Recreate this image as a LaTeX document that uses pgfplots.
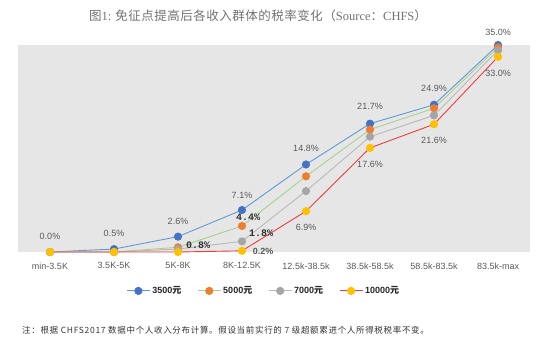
\documentclass[border=0pt]{standalone}
\usepackage{pgfplots}
\pgfplotsset{compat=1.18}
\usepackage{fontspec}
\setmainfont{Liberation Sans}
\newfontfamily\cjk{Noto Sans CJK SC}
\newfontfamily\serif{Liberation Serif}
\newfontfamily\mono{Liberation Mono}
\definecolor{bgc}{RGB}{231,230,230}
\definecolor{c1}{RGB}{68,114,196}
\definecolor{l1}{RGB}{91,155,213}
\definecolor{c2}{RGB}{237,125,49}
\definecolor{l2}{RGB}{169,209,142}
\definecolor{c3}{RGB}{165,165,165}
\definecolor{l3}{RGB}{185,185,185}
\definecolor{c4}{RGB}{255,192,0}
\definecolor{l4}{RGB}{240,60,60}
\definecolor{txt}{RGB}{89,89,89}
\tikzset{lab/.style={font=\fontsize{9bp}{10bp}\selectfont, text=txt},
  blab/.style={font=\mono\bfseries\fontsize{10bp}{10bp}\selectfont, text=black!80}}
\begin{document}
\begin{tikzpicture}[x=1bp,y=1bp]
\useasboundingbox (0,0) rectangle (550,351);
\begin{axis}[at={(18bp,99bp)}, anchor=south west, scale only axis,
  width=512bp, height=207bp,
  xmin=-0.5, xmax=7.5, ymin=0, ymax=35,
  axis background/.style={fill=bgc},
  axis line style={draw=none},
  xtick={0,...,7},
  xticklabels={min-3.5K,3.5K-5K,5K-8K,8K-12.5K,12.5k-38.5k,38.5k-58.5k,58.5k-83.5k,83.5k-max},
  ytick=\empty, major tick length=0pt,
  xticklabel style={font=\fontsize{9bp}{10bp}\selectfont, text=txt, yshift=-7bp},
  clip=false,
  legend columns=4,
  legend style={at={(0.48,-0.188)}, anchor=center, draw=none, fill=none,
    font=\bfseries\fontsize{9bp}{10bp}\selectfont, text=black!85,
    /tikz/every even column/.append style={column sep=14bp}},
  legend image code/.code={\draw[mark repeat=2,mark phase=2] plot coordinates {(0bp,0bp)(11.5bp,0bp)(23bp,0bp)};},
]
\addplot[color=l1, line width=0.9bp, mark=*, mark size=3.6bp, mark options={fill=c1, draw=c1}]
  coordinates {(0,0) (1,0.5) (2,2.6) (3,7.1) (4,14.8) (5,21.7) (6,24.9) (7,35.0)};
\addlegendentry{3500{\cjk 元}}
\addplot[color=l2, line width=0.9bp, mark=*, mark size=3.6bp, mark options={fill=c2, draw=c2}]
  coordinates {(0,0) (1,0) (2,0.8) (3,4.4) (4,12.8) (5,20.7) (6,24.3) (7,34.6)};
\addlegendentry{5000{\cjk 元}}
\addplot[color=l3, line width=0.9bp, mark=*, mark size=3.6bp, mark options={fill=c3, draw=c3}]
  coordinates {(0,0) (1,0) (2,0.5) (3,1.8) (4,10.3) (5,19.5) (6,23.1) (7,34.1)};
\addlegendentry{7000{\cjk 元}}
\addplot[color=l4, line width=0.9bp, mark=*, mark size=3.6bp, mark options={fill=c4, draw=c4}]
  coordinates {(0,0) (1,0) (2,0) (3,0.2) (4,6.9) (5,17.6) (6,21.6) (7,33.0)};
\addlegendentry{10000{\cjk 元}}
% labels, series 3500
\node[lab, yshift=16bp] at (axis cs:0,0) {0.0\%};
\node[lab, yshift=16bp] at (axis cs:1,0.5) {0.5\%};
\node[lab, yshift=15bp] at (axis cs:2,2.6) {2.6\%};
\node[lab, yshift=15bp] at (axis cs:3,7.1) {7.1\%};
\node[lab, yshift=16bp] at (axis cs:4,14.8) {14.8\%};
\node[lab, yshift=17bp] at (axis cs:5,21.7) {21.7\%};
\node[lab, yshift=16bp] at (axis cs:6,24.9) {24.9\%};
\node[lab, yshift=13bp] at (axis cs:7,35.0) {35.0\%};
% labels, series 10000
\node[lab, yshift=-16bp] at (axis cs:4,6.9) {6.9\%};
\node[lab, yshift=-16bp] at (axis cs:5,17.6) {17.6\%};
\node[lab, yshift=-16bp] at (axis cs:6,21.6) {21.6\%};
\node[lab, yshift=-17bp] at (axis cs:7,33.0) {33.0\%};
% bold labels
\node[blab] at (axis cs:2.3125,1.07) {0.8\%};
\node[blab] at (axis cs:3.094,5.80) {4.4\%};
\node[blab] at (axis cs:3.297,3.26) {1.8\%};
\node[font=\bfseries\fontsize{9bp}{10bp}\selectfont, text=txt] at (axis cs:3.33,0.17) {0.2\%};
\end{axis}
\node[text=txt!85, font=\fontsize{12.5bp}{14bp}\selectfont] at (258,335)
  {{\cjk\addfontfeature{LetterSpace=4} 图}{\serif 1: }{\cjk\addfontfeature{LetterSpace=4}免征点提高后各收入群体的税率变化（}{\serif Source}{\cjk ：}{\serif CHFS}{\cjk ）}};
\node[anchor=west, inner sep=0pt, text=black!80, font=\cjk\fontsize{8.5bp}{10bp}\selectfont\addfontfeature{LetterSpace=8}] at (22,21)
  {注：根据 CHFS2017 数据中个人收入分布计算。假设当前实行的 7 级超额累进个人所得税税率不变。};
\end{tikzpicture}
\end{document}
